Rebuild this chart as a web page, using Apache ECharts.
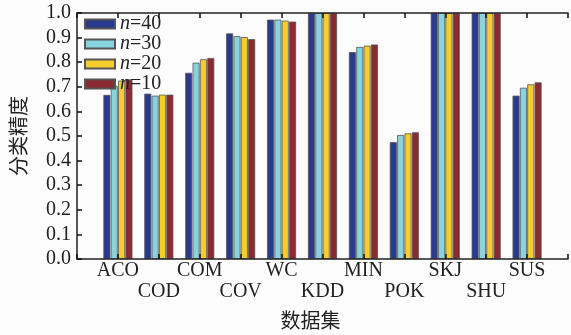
<!DOCTYPE html>
<html>
<head>
<meta charset="utf-8">
<script src="https://cdn.jsdelivr.net/npm/echarts@6/dist/echarts.min.js"></script>
<style>
html,body{margin:0;padding:0;background:#fcfcfc;}
#chart{width:571px;height:335px;}
</style>
</head>
<body>
<div id="chart"></div>
<script>
var categories = ['ACO','COD','COM','COV','WC','KDD','MIN','POK','SKJ','SHU','SUS'];
var seriesNames = ['n=40','n=30','n=20','n=10'];
var n40 = [0.667,0.672,0.757,0.917,0.973,1.0,0.841,0.475,1.0,1.0,0.664];
var n30 = [0.704,0.664,0.798,0.906,0.973,1.0,0.862,0.504,1.0,1.0,0.696];
var n20 = [0.725,0.668,0.812,0.902,0.969,1.0,0.867,0.511,1.0,1.0,0.710];
var n10 = [0.730,0.668,0.817,0.894,0.965,1.0,0.872,0.515,1.0,1.0,0.718];
var yTicks = [0,0.1,0.2,0.3,0.4,0.5,0.6,0.7,0.8,0.9,1.0];

var colors = ['#2a3a8f','#88d3dd','#f6cd2c','#8a2a31'];
var serif = '"Liberation Serif","DejaVu Serif",serif';
var cjk = '"Noto Sans CJK SC",sans-serif';

var axisCats = [''].concat(categories).concat(['']);
function pad(arr){ return ['-'].concat(arr).concat(['-']); }
var values = [n40,n30,n20,n10];

var chart = echarts.init(document.getElementById('chart'));
chart.setOption({
  backgroundColor:'#fcfcfc',
  animation:false,
  color:colors,
  legend:{
    left:84, top:14, padding:0, orient:'vertical', itemGap:0, itemWidth:30, itemHeight:9,
    icon:'rect',
    data:seriesNames,
    formatter:function(name){ return '{i|n}' + name.slice(1); },
    textStyle:{fontFamily:serif,fontSize:20,color:'#222',lineHeight:17,
      rich:{i:{fontFamily:serif,fontSize:20,fontStyle:'italic',color:'#222',lineHeight:17}}}
  },
  grid:{left:77,top:13,right:-3,bottom:74},
  xAxis:[{
    type:'category', data:axisCats, boundaryGap:false, z:5,
    axisLine:{lineStyle:{color:'#222',width:1.5}},
    axisTick:{inside:true,length:5,lineStyle:{color:'#111',width:1.5}},
    axisLabel:{interval:0,margin:1.5,fontFamily:serif,fontSize:20,color:'#222',lineHeight:21,
      formatter:function(v,i){ return (i % 2 === 1) ? v : '\n' + v; }},
    name:'数据集', nameLocation:'middle', nameGap:51,
    nameTextStyle:{fontFamily:cjk,fontSize:20,color:'#222',padding:[0,24,0,0]}
  },{
    type:'category', data:axisCats, boundaryGap:false, position:'top', z:5,
    axisLine:{lineStyle:{color:'#222',width:1.5}},
    axisTick:{inside:true,length:5,lineStyle:{color:'#111',width:1.5}},
    axisLabel:{show:false}
  }],
  yAxis:{
    type:'value', min:0, max:1, interval:0.1, z:5,
    splitLine:{show:false},
    axisLine:{show:true,lineStyle:{color:'#222',width:1.5}},
    axisTick:{show:true,inside:true,length:5,lineStyle:{color:'#111',width:1.5}},
    axisLabel:{margin:6,fontFamily:serif,fontSize:20,color:'#222',
      formatter:function(v){ return v.toFixed(1); }},
    name:'分类精度', nameLocation:'middle', nameGap:49, nameRotate:90,
    nameTextStyle:{fontFamily:cjk,fontSize:20,color:'#222'}
  },
  series:seriesNames.map(function(nm,k){
    return {
      name:nm, type:'bar', data:pad(values[k]),
      barWidth:7, barGap:'5%',
      itemStyle:{color:colors[k],borderColor:'#555',borderWidth:0.8}
    };
  })
});
</script>
</body>
</html>
